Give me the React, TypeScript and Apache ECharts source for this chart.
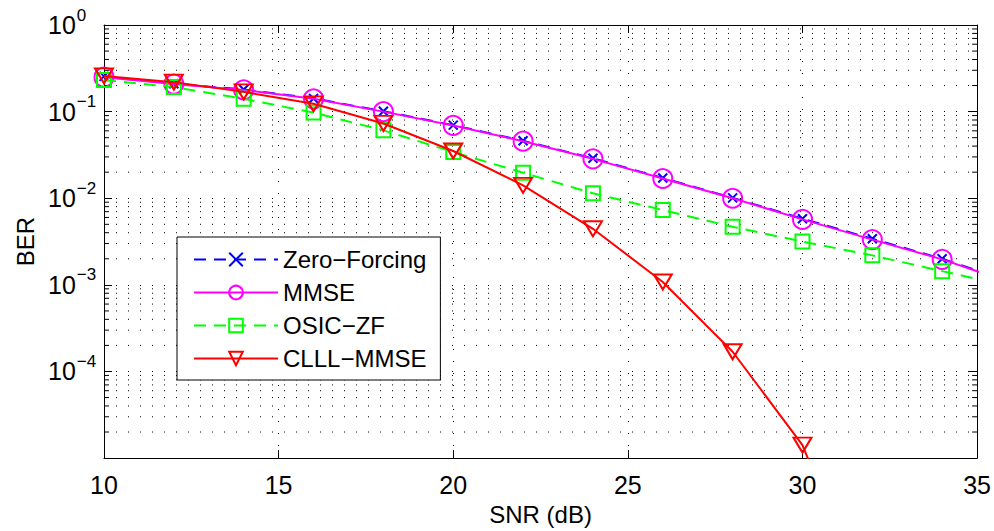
import React, { useEffect, useRef } from "react";
import * as echarts from "echarts";

const snr = [10, 12, 14, 16, 18, 20, 22, 24, 26, 28, 30, 32, 34, 36];
const zfBer = [0.255, 0.21, 0.18, 0.142, 0.101, 0.0698, 0.046, 0.0289, 0.0171, 0.0101, 0.0058, 0.0034, 0.002, 0.00107];
const mmseBer = [0.25, 0.208, 0.178, 0.1405, 0.1, 0.0693, 0.0456, 0.0285, 0.0169, 0.01, 0.0057, 0.00333, 0.00197, 0.00105];
const osicBer = [0.231, 0.192, 0.1405, 0.0974, 0.0608, 0.0342, 0.0197, 0.0114, 0.0073, 0.00468, 0.00316, 0.00219, 0.00144, 0.00095];
const clllSnr = [10, 12, 14, 16, 18, 20, 22, 24, 26, 28, 30, 32];
const clllBer = [0.2585, 0.219, 0.169, 0.123, 0.073, 0.0351, 0.0141, 0.00444, 0.00108, 0.000169, 0.0000141, 0.00000015];

const seriesNames = ["Zero\u2212Forcing", "MMSE", "OSIC\u2212ZF", "CLLL\u2212MMSE"];
const X_MIN = 10;
const X_MAX = 35;
const X_STEP = 5;
const Y_MIN = 1e-5;
const Y_MAX = 1;
const minorMultipliers = [2, 3, 4, 5, 6, 7, 8, 9];
const decades = [-5, -4, -3, -2, -1];

const FONT = "'Liberation Sans', Arial, Helvetica, sans-serif";

export default function App() {
  const ref = useRef<HTMLDivElement>(null);
  useEffect(() => {
    if (!ref.current) return;
    const chart = echarts.init(ref.current, null, { renderer: "svg" });
    const minorVals: number[] = [];
    decades.forEach((d) => minorMultipliers.forEach((m) => minorVals.push(m * Math.pow(10, d))));
    const pair = (xs: number[], ys: number[]) => xs.map((x, i) => [x, ys[i]]);
    const dotted = { color: "#000", width: 1, type: [1, 11] as any };

    chart.setOption({
      animation: false,
      backgroundColor: "#fff",
      textStyle: { fontFamily: FONT },
      grid: { left: 104, right: 15, top: 25, bottom: 65, show: false },
      legend: {
        data: seriesNames,
        orient: "vertical",
        left: 177,
        top: 237,
        backgroundColor: "#fff",
        borderColor: "#000",
        borderWidth: 1,
        borderRadius: 0,
        padding: [10, 14, 9, 16],
        itemWidth: 84,
        itemHeight: 17,
        itemGap: 8,
        textStyle: { fontSize: 24, color: "#000", fontFamily: FONT, lineHeight: 25 },
      },
      xAxis: [
        {
          type: "value",
          min: X_MIN,
          max: X_MAX,
          interval: X_STEP,
          position: "bottom",
          axisLine: { show: true, onZero: false, lineStyle: { color: "#000", width: 1 } },
          axisTick: { show: true, inside: true, length: 8, lineStyle: { color: "#000" } },
          axisLabel: { fontSize: 25, color: "#000", margin: 14, fontFamily: FONT },
          splitLine: { show: true, lineStyle: dotted },
          name: "SNR (dB)",
          nameLocation: "middle",
          nameGap: 39,
          nameTextStyle: { fontSize: 24, color: "#000", fontFamily: FONT },
        },
        {
          type: "value",
          min: X_MIN,
          max: X_MAX,
          interval: X_STEP,
          position: "top",
          axisLine: { show: true, onZero: false, lineStyle: { color: "#000", width: 1 } },
          axisTick: { show: true, inside: true, length: 8, lineStyle: { color: "#000" } },
          axisLabel: { show: false },
          splitLine: { show: false },
        },
      ],
      yAxis: [
        {
          type: "log",
          logBase: 10,
          min: Y_MIN,
          max: Y_MAX,
          position: "left",
          axisLine: { show: true, onZero: false, lineStyle: { color: "#000", width: 1 } },
          axisTick: { show: true, inside: true, length: 8, lineStyle: { color: "#000" } },
          axisLabel: {
            margin: 56,
            align: "left",
            color: "#000",
            formatter: (v: number) => {
              const e = Math.round(Math.log10(v));
              if (e === -5) return "";
              const s = e < 0 ? "\u2212" + -e : String(e);
              return "{b|10}{s|" + s + "}";
            },
            rich: {
              b: { fontSize: 25, color: "#000", fontFamily: FONT },
              s: { fontSize: 17, color: "#000", fontFamily: FONT, padding: [0, 0, 20, 1] },
            },
          },
          splitLine: { show: true, lineStyle: dotted },
          name: "BER",
          nameLocation: "middle",
          nameGap: 64,
          nameTextStyle: { fontSize: 24, color: "#000", fontFamily: FONT },
        },
        {
          type: "log",
          logBase: 10,
          min: Y_MIN,
          max: Y_MAX,
          position: "right",
          axisLine: { show: true, onZero: false, lineStyle: { color: "#000", width: 1 } },
          axisTick: { show: true, inside: true, length: 8, lineStyle: { color: "#000" } },
          axisLabel: { show: false },
          splitLine: { show: false },
        },
      ],
      series: [
        {
          type: "custom",
          name: "minorGrid",
          silent: true,
          z: 1,
          xAxisIndex: 0,
          yAxisIndex: 0,
          data: minorVals.map((v) => [X_MIN, v]),
          renderItem: (_params: any, api: any) => {
            const v = api.value(1);
            const p0 = api.coord([X_MIN, v]);
            const p1 = api.coord([X_MAX, v]);
            return {
              type: "group",
              children: [
                { type: "line", shape: { x1: p0[0], y1: p0[1], x2: p1[0], y2: p1[1] }, style: { stroke: "#000", lineWidth: 1, lineDash: [1, 11] } },
                { type: "line", shape: { x1: p0[0], y1: p0[1], x2: p0[0] + 5, y2: p0[1] }, style: { stroke: "#000", lineWidth: 1 } },
                { type: "line", shape: { x1: p1[0] - 5, y1: p1[1], x2: p1[0], y2: p1[1] }, style: { stroke: "#000", lineWidth: 1 } },
              ],
            };
          },
        },
        {
          type: "line",
          name: seriesNames[0],
          data: pair(snr, zfBer),
          clip: true,
          z: 3,
          symbol: "path://M0,0L10,10M10,0L0,10",
          symbolSize: 9,
          lineStyle: { color: "#0000ff", width: 2, type: [12, 8] },
          itemStyle: { color: "#0000ff", borderColor: "#0000ff", borderWidth: 2 },
        },
        {
          type: "line",
          name: seriesNames[1],
          data: pair(snr, mmseBer),
          clip: true,
          z: 4,
          symbol: "circle",
          symbolSize: 19,
          lineStyle: { color: "#ff00ff", width: 2 },
          itemStyle: { color: "rgba(0,0,0,0)", borderColor: "#ff00ff", borderWidth: 2 },
        },
        {
          type: "line",
          name: seriesNames[2],
          data: pair(snr, osicBer),
          clip: true,
          z: 5,
          symbol: "rect",
          symbolSize: 14,
          lineStyle: { color: "#00ff00", width: 2, type: [12, 8] },
          itemStyle: { color: "rgba(0,0,0,0)", borderColor: "#00ff00", borderWidth: 2 },
        },
        {
          type: "line",
          name: seriesNames[3],
          data: pair(clllSnr, clllBer),
          clip: true,
          z: 6,
          symbol: "triangle",
          symbolRotate: 180,
          symbolSize: [18, 15],
          lineStyle: { color: "#ff0000", width: 2 },
          itemStyle: { color: "rgba(0,0,0,0)", borderColor: "#ff0000", borderWidth: 2 },
        },
      ],
    });
    return () => chart.dispose();
  }, []);
  return (
    <div
      ref={ref}
      style={{ position: "fixed", left: 0, top: 0, width: 994, height: 531, background: "#fff" }}
    />
  );
}
